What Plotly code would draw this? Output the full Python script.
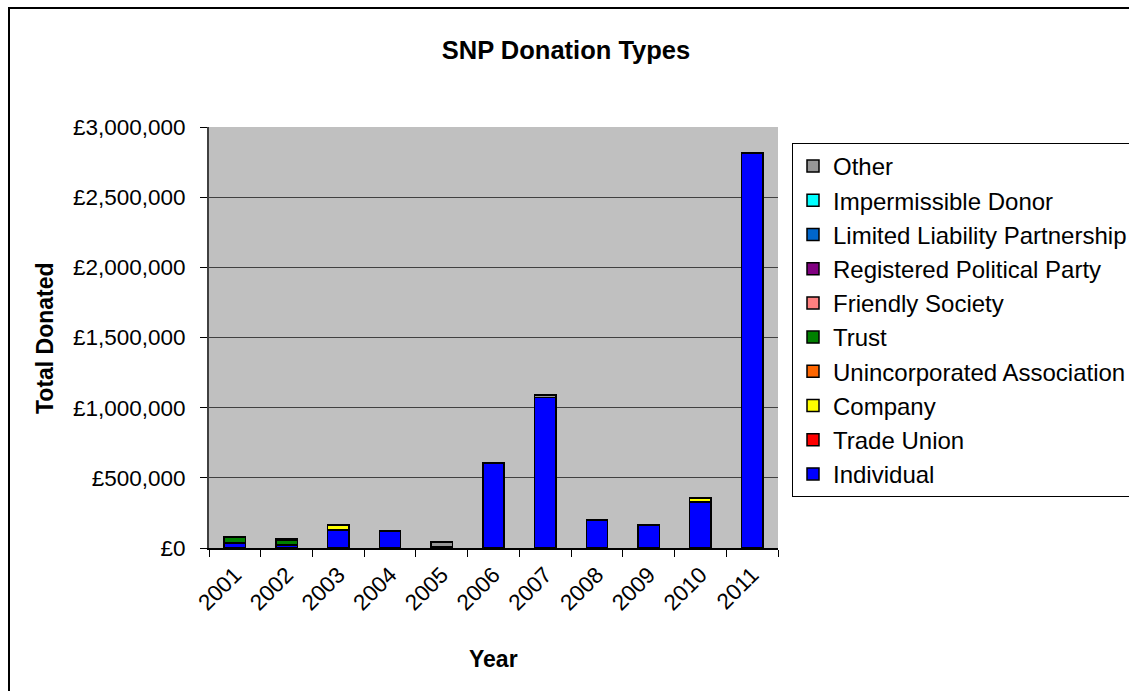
import plotly.graph_objects as go

years = ["2001", "2002", "2003", "2004", "2005", "2006", "2007", "2008", "2009", "2010", "2011"]

individual = [36000, 20000, 128000, 121000, 12000, 606000, 1072000, 200000, 164000, 328000, 2815000]
trade_union = [0, 0, 0, 0, 0, 0, 0, 0, 0, 0, 0]
company = [0, 0, 36000, 0, 0, 0, 0, 0, 0, 30000, 0]
unincorporated = [0, 0, 0, 0, 0, 0, 0, 0, 0, 0, 0]
trust = [42000, 36000, 0, 0, 0, 0, 0, 0, 0, 0, 0]
friendly_society = [0, 0, 0, 0, 0, 0, 0, 0, 0, 0, 0]
registered_party = [0, 0, 0, 0, 0, 0, 0, 0, 0, 0, 0]
llp = [0, 0, 0, 0, 0, 0, 0, 0, 0, 0, 0]
impermissible = [0, 0, 0, 0, 0, 0, 0, 0, 0, 0, 0]
other = [0, 8000, 0, 0, 30000, 0, 18000, 0, 0, 0, 0]

series = [
    ("Individual", individual, "#0000FF"),
    ("Trade Union", trade_union, "#FF0000"),
    ("Company", company, "#FFFF00"),
    ("Unincorporated Association", unincorporated, "#FF6600"),
    ("Trust", trust, "#008000"),
    ("Friendly Society", friendly_society, "#FF8080"),
    ("Registered Political Party", registered_party, "#800080"),
    ("Limited Liability Partnership", llp, "#0066CC"),
    ("Impermissible Donor", impermissible, "#00FFFF"),
    ("Other", other, "#969696"),
]

fig = go.Figure()
n = len(series)
for i, (name, vals, col) in enumerate(series):
    fig.add_trace(go.Bar(
        x=years, y=vals, name=name, legendrank=n - i,
        marker=dict(color=col, line=dict(color="black", width=1.5)),
    ))

# pixel geometry
L, R, T, B = 209, 778, 127, 548
W, H = 1129, 691
pw, ph = R - L, B - T

def px(x):
    return (x - L) / pw

def py(y):
    return (B - y) / ph

FONT = "Arial, Liberation Sans, sans-serif"

fig.update_layout(
    width=W, height=H,
    margin=dict(l=L, r=W - R, t=T, b=H - B, autoexpand=False),
    barmode="stack", bargap=0.587,
    plot_bgcolor="#C0C0C0", paper_bgcolor="white",
    font=dict(family=FONT, size=22, color="black"),
    title=dict(text="<b>SNP Donation Types</b>", x=px(566), xref="paper", xanchor="center",
               y=1 - 50 / H, yanchor="middle", font=dict(size=25.5)),
    showlegend=True,
    legend=dict(x=px(792), y=py(143), xanchor="left", yanchor="top",
                traceorder="normal",
                bordercolor="black", borderwidth=1, bgcolor="white",
                font=dict(size=24)),
    xaxis=dict(type="category", tickangle=-45, showgrid=False,
               ticks="outside", tickson="boundaries", ticklen=7, tickcolor="black",
               ticklabelstandoff=3,
               showline=True, linecolor="black", linewidth=1.5,
               tickfont=dict(size=22.5)),
    yaxis=dict(range=[0, 3000000], dtick=500000, tickprefix="£", tickformat=",",
               showgrid=True, gridcolor="#404040", gridwidth=1.4,
               ticks="outside", ticklen=7, tickcolor="black",
               ticklabelstandoff=10,
               showline=True, linecolor="#404040", linewidth=2, zeroline=False,
               tickfont=dict(size=22.5)),
    annotations=[
        dict(text="<b>Total Donated</b>", xref="paper", yref="paper",
             x=px(45), y=py(338), textangle=-90, showarrow=False,
             xanchor="center", yanchor="middle", font=dict(size=23)),
        dict(text="<b>Year</b>", xref="paper", yref="paper",
             x=px(493), y=py(659), showarrow=False,
             xanchor="center", yanchor="middle", font=dict(size=23)),
    ],
    shapes=[
        dict(type="rect", xref="paper", yref="paper",
             x0=px(9), x1=px(1140), y0=py(8), y1=py(700),
             line=dict(color="black", width=2), fillcolor="rgba(0,0,0,0)", layer="above"),
    ],
)

fig.write_html("out.html", config={"displayModeBar": False},
               post_script="document.body.style.margin='0';")
